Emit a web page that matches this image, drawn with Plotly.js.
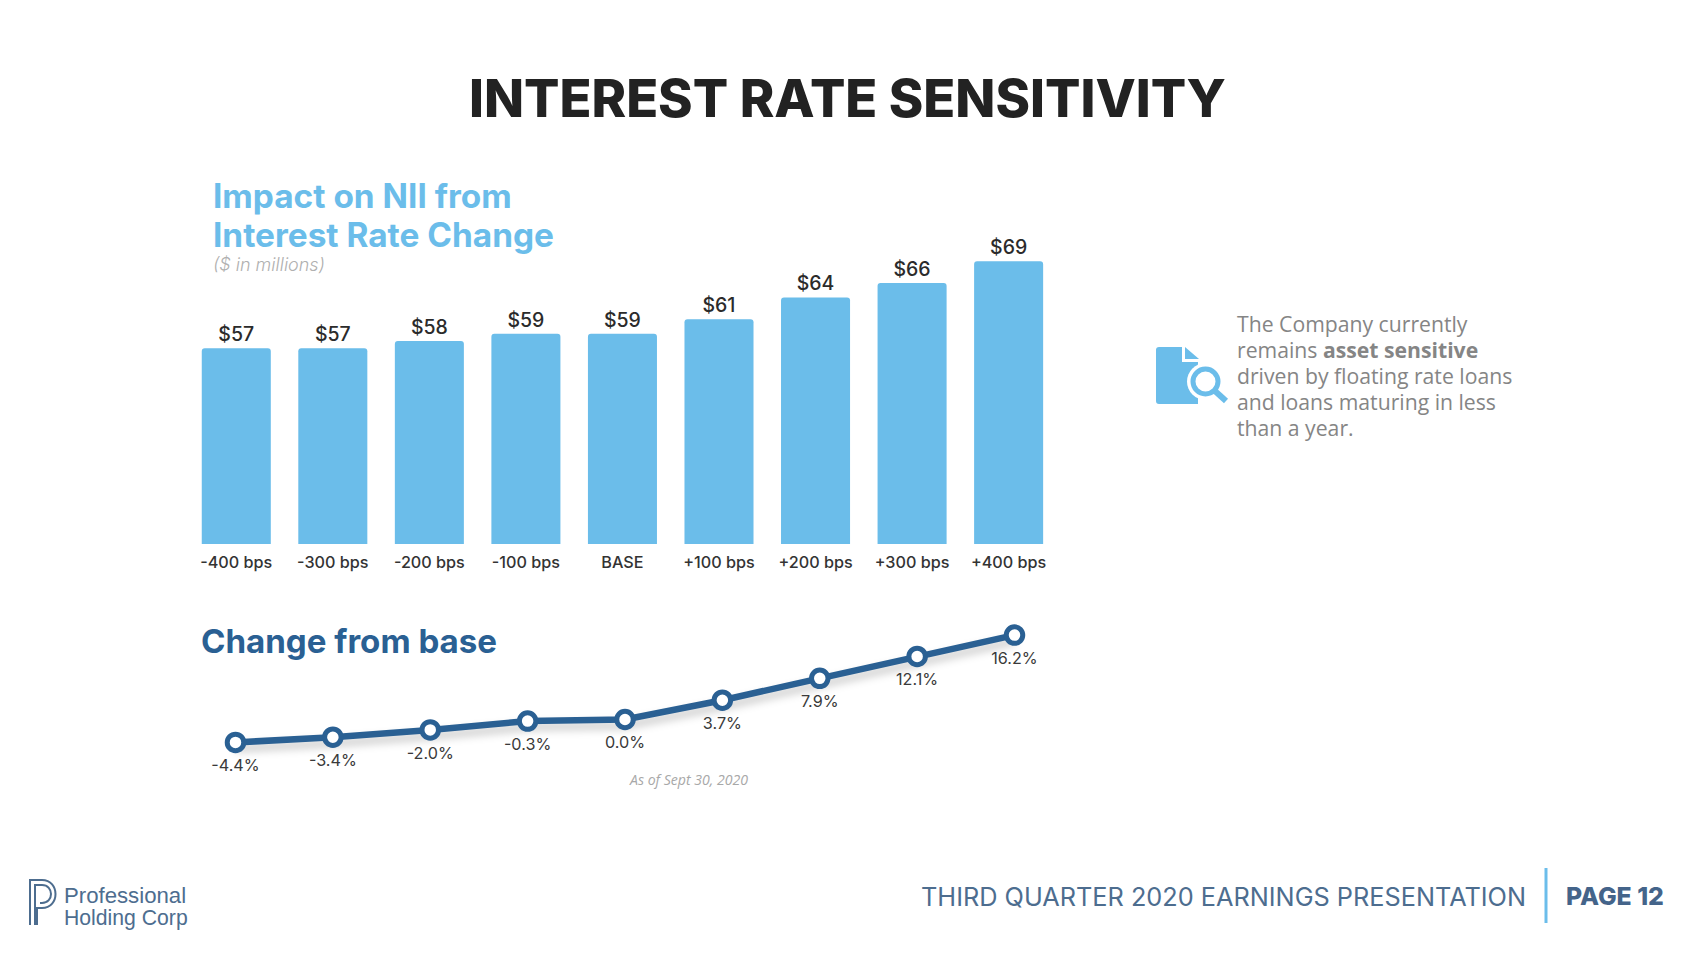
<!DOCTYPE html>
<html><head><meta charset="utf-8">
<script src="https://cdn.plot.ly/plotly-3.0.1.min.js"></script>
<style>html,body{margin:0;padding:0;background:#fff}#c{width:1694px;height:953px}</style></head>
<body><div id="c"></div>
<script>
const categories=["-400 bps","-300 bps","-200 bps","-100 bps","BASE","+100 bps","+200 bps","+300 bps","+400 bps"];
const niiValues=[57,57,58,59,59,61,64,66,69];
const niiLabels=["$57","$57","$58","$59","$59","$61","$64","$66","$69"];
const changeValues=[-4.4,-3.4,-2.0,-0.3,0.0,3.7,7.9,12.1,16.2];
const changeLabels=["-4.4%","-3.4%","-2.0%","-0.3%","0.0%","3.7%","7.9%","12.1%","16.2%"];
const sideLines=["The Company currently","remains <b>asset sensitive</b>","driven by floating rate loans","and loans maturing in less","than a year."];

const W=1694,H=953;
const fx=p=>p/W, fy=p=>1-p/H;
const SANS="Inter, 'Noto Sans', sans-serif";
const OPEN="'Open Sans', sans-serif";
const LIGHT="#6bbdea", DARK="#2a6093", SLATE="#4d6d8f";

function note(text,x,y,size,color,opts={}){
  return Object.assign({text,x:fx(x),y:fy(y),xref:"paper",yref:"paper",xanchor:"left",yanchor:"middle",
    showarrow:false,align:"left",font:Object.assign({family:SANS,size,color},opts.font||{})},opts.extra||{});
}
const annotations=[
  note("INTEREST RATE SENSITIVITY",847,98,52.4,"#222222",{font:{weight:800},extra:{xanchor:"center"}}),
  note("Impact on NII from",211,195.5,33.4,LIGHT,{font:{weight:700}}),
  note("Interest Rate Change",211,234.5,33.4,LIGHT,{font:{weight:700}}),
  note("<i>($ in millions)</i>",211,264,18,"#b0b0b0",{font:{weight:300}}),
  note("Change from base",199,641,33.1,DARK,{font:{weight:700}}),
  note("<i>As of Sept 30, 2020</i>",627,779,14.1,"#a8a8a8",{font:{family:OPEN}}),
  note("Professional",62,895,22.2,SLATE,{font:{family:"'Liberation Sans', sans-serif"}}),
  note("Holding Corp",62,918,21.2,SLATE,{font:{family:"'Liberation Sans', sans-serif"}}),
  note("THIRD QUARTER 2020 EARNINGS PRESENTATION",919,896,25.3,SLATE,{font:{weight:400}}),
  note("PAGE 12",1564,896,24.8,"#44648a",{font:{weight:800}})
].concat(sideLines.map((t,i)=>note(t,1235,323+i*26.2,21.2,"#858585",{font:{family:OPEN}})));
function path(d,fill,line,width){
  return {type:"path",xref:"paper",yref:"paper",layer:"above",
    path:d.replace(/(-?[\d.]+),(-?[\d.]+)/g,(m,a,b)=>fx(+a)+","+fy(+b)),
    fillcolor:fill||"rgba(0,0,0,0)",line:{color:line||"rgba(0,0,0,0)",width:width||0}};
}
const shapes=[
  {type:"line",xref:"paper",yref:"paper",x0:fx(1546),x1:fx(1546),y0:fy(868),y1:fy(923),line:{color:LIGHT,width:3}},
  path("M1159,347 L1182,347 L1182,362 L1198,362 L1198,404 L1159,404 Q1156,404 1156,401 L1156,350 Q1156,347 1159,347 Z",LIGHT),
  path("M1185,347 L1199,359 L1185,359 Z",LIGHT),
  {type:"circle",xref:"paper",yref:"paper",x0:fx(1187),x1:fx(1224),y0:fy(363),y1:fy(400),fillcolor:"#ffffff",line:{width:0}},
  {type:"circle",xref:"paper",yref:"paper",x0:fx(1193),x1:fx(1218),y0:fy(369),y1:fy(394),fillcolor:"#ffffff",line:{color:LIGHT,width:5}},
  {type:"line",xref:"paper",yref:"paper",x0:fx(1215),x1:fx(1226),y0:fy(391),y1:fy(401),line:{color:LIGHT,width:6}},
  path("M30,925 L30,880 L42,880 C60,880 60,908 42,908 L37,908 L37,925",null,SLATE,2),
  path("M35,925 L35,885 L42,885 C54,885 54,903 42,903 L40,903",null,SLATE,2)
];
const traces=[
  {type:"bar",x:categories,y:niiValues,marker:{color:LIGHT},hoverinfo:"skip",xaxis:"x",yaxis:"y"},
  {type:"scatter",mode:"markers+text",x:categories,y:niiValues,text:niiLabels,textposition:"top center",cliponaxis:false,
   textfont:{family:SANS,size:19.5,color:"#2b2b2b",weight:500},marker:{size:2,color:"rgba(0,0,0,0)",line:{width:0}},hoverinfo:"skip",xaxis:"x",yaxis:"y"},
  {type:"scatter",mode:"lines+markers",x:categories,y:changeValues,cliponaxis:false,
   line:{color:DARK,width:6.5},marker:{size:16.5,color:"#ffffff",line:{color:DARK,width:5}},hoverinfo:"skip",xaxis:"x2",yaxis:"y2"},
  {type:"scatter",mode:"markers+text",x:categories,y:changeValues,text:changeLabels,textposition:"bottom center",
   textfont:{family:SANS,size:16.2,color:"#3a3a3a"},cliponaxis:false,
   marker:{size:25,color:"rgba(0,0,0,0)",line:{width:0}},hoverinfo:"skip",xaxis:"x2",yaxis:"y2"}
];
const layout={
  width:W,height:H,margin:{l:0,r:0,t:0,b:0},paper_bgcolor:"#ffffff",plot_bgcolor:"rgba(0,0,0,0)",
  showlegend:false,bargap:0.285,barcornerradius:3,
  xaxis:{domain:[fx(188),fx(1056.9)],anchor:"y",type:"category",categoryorder:"array",categoryarray:categories,
    range:[-0.5,8.5],showgrid:false,zeroline:false,showline:false,ticks:"",ticklabelstandoff:7,
    tickfont:{family:SANS,size:16.2,color:"#333333",weight:500}},
  yaxis:{domain:[fy(544),fy(239.5)],anchor:"x",range:[30,72],visible:false,showgrid:false,zeroline:false},
  xaxis2:{domain:[fx(186.8),fx(1063.2)],anchor:"y2",type:"category",categoryorder:"array",categoryarray:categories,
    range:[-0.5,8.5],visible:false,showgrid:false,zeroline:false},
  yaxis2:{domain:[fy(771.6),fy(615.3)],anchor:"x2",range:[-10,20],visible:false,showgrid:false,zeroline:false},
  annotations,shapes
};
Plotly.newPlot("c",traces,layout,{displayModeBar:false,staticPlot:true}).then(()=>{
  document.querySelectorAll(".scatterlayer .js-line").forEach(p=>{p.style.filter="drop-shadow(0 6px 4px rgba(0,0,0,.22))";});
});
</script></body></html>
